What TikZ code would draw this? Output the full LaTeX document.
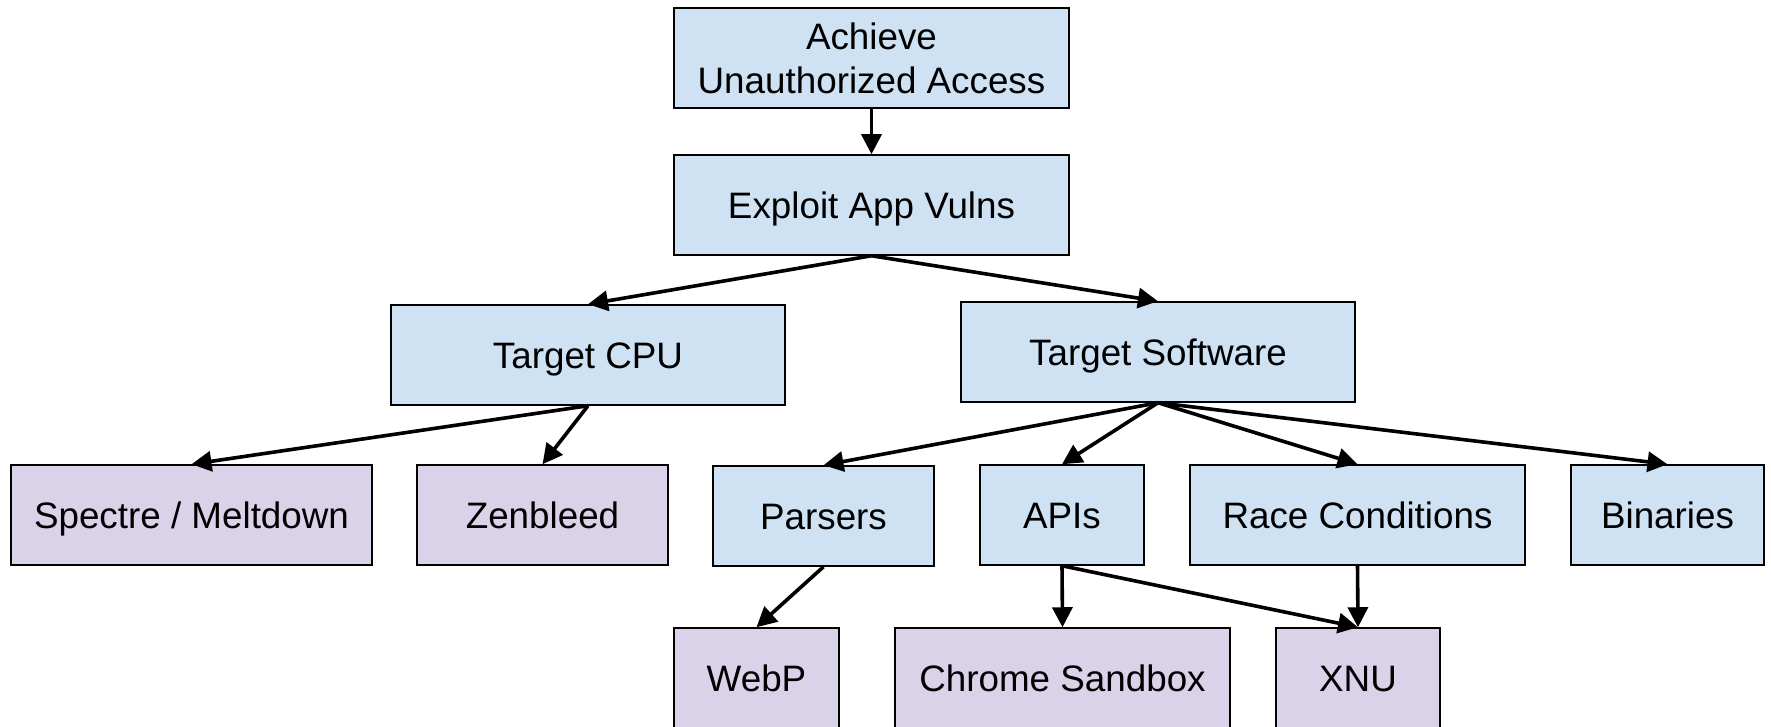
\documentclass[tikz,border=0pt]{standalone}
\usepackage{fontspec}
\setmainfont{Liberation Sans}
\usetikzlibrary{arrows.meta}
\definecolor{bluebox}{HTML}{CFE2F3}
\definecolor{purplebox}{HTML}{D9D2E9}
\begin{document}
\begin{tikzpicture}[x=0.5pt,y=-0.5pt,
  base/.style={draw=black, line width=0.75pt, rectangle, inner sep=0pt,
    minimum height=50pt, align=center,
    font=\fontsize{18.4}{22}\selectfont},
  oneline/.style={text height=13.2pt, text depth=0pt},
  goal/.style={base, fill=bluebox},
  leaf/.style={base, fill=purplebox},
  arr/.style={line width=1.8pt, -{Triangle[length=10pt,width=10pt]}}]
\useasboundingbox (0,0) rectangle (1771,727);
\begin{scope}
\clip (0,0) rectangle (1771,727);
% tree of goals
\node[goal, minimum width=197.5pt] (ach) at (871.5,58) {Achieve\\Unauthorized Access};
\node[goal, oneline, minimum width=197.5pt] (exp) at (871.5,205) {Exploit App Vulns};
\node[goal, oneline, minimum width=197pt] (cpu) at (588,355) {Target CPU};
\node[goal, oneline, minimum width=197pt] (sw) at (1158,352) {Target Software};
\node[leaf, oneline, minimum width=180.5pt] (spec) at (191.5,515) {Spectre / Meltdown};
\node[leaf, oneline, minimum width=125.5pt] (zen) at (542.5,515) {Zenbleed};
\node[goal, oneline, minimum width=110.5pt] (pars) at (823.5,516) {Parsers};
\node[goal, oneline, minimum width=82pt] (api) at (1062,515) {APIs};
\node[goal, oneline, minimum width=167.5pt] (race) at (1357.5,515) {Race Conditions};
\node[goal, oneline, minimum width=96.5pt] (bin) at (1667.5,515) {Binaries};
\node[leaf, oneline, minimum width=82.5pt] (webp) at (756.5,678) {WebP};
\node[leaf, oneline, minimum width=167.5pt] (chrome) at (1062.5,678) {Chrome Sandbox};
\node[leaf, oneline, minimum width=82pt] (xnu) at (1358,678) {XNU};
% connectors
\draw[arr] (ach.south) -- (exp.north);
\draw[arr] (exp.south) -- (cpu.north);
\draw[arr] (exp.south) -- (sw.north);
\draw[arr] (cpu.south) -- (spec.north);
\draw[arr] (cpu.south) -- (zen.north);
\draw[arr] (sw.south) -- (pars.north);
\draw[arr] (sw.south) -- (api.north);
\draw[arr] (sw.south) -- (race.north);
\draw[arr] (sw.south) -- (bin.north);
\draw[arr] (pars.south) -- (webp.north);
\draw[arr] (api.south) -- (chrome.north);
\draw[arr] (api.south) -- (xnu.north);
\draw[arr] (race.south) -- (xnu.north);
\end{scope}
\end{tikzpicture}
\end{document}
